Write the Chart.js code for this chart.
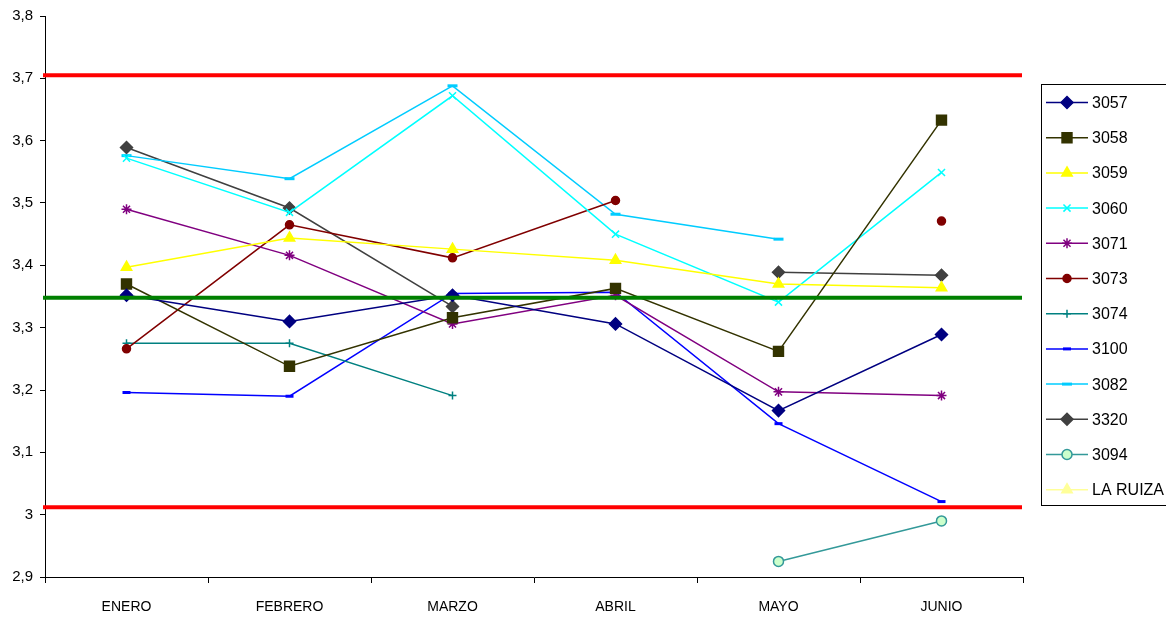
<!DOCTYPE html>
<html>
<head>
<meta charset="utf-8">
<script src="https://cdn.jsdelivr.net/npm/chart.js@4.4.1/dist/chart.umd.min.js"></script>
<style>
  html, body { margin: 0; padding: 0; background: #fff; }
  #wrap { width: 1166px; height: 619px; }
</style>
</head>
<body>
<div id="wrap"><canvas id="lineChart" width="1166" height="619"></canvas></div>
<script>
// meses
const months = ['ENERO', 'FEBRERO', 'MARZO', 'ABRIL', 'MAYO', 'JUNIO'];

// valores por codigo (null = sin dato)
const v3057 = [3.352, 3.310, 3.352, 3.306, 3.167, 3.289];
const v3058 = [3.370, 3.238, 3.316, 3.363, 3.262, 3.633];
const v3059 = [3.397, 3.444, 3.426, 3.408, 3.370, 3.364];
const v3060 = [3.572, 3.485, 3.672, 3.450, 3.341, 3.549];
const v3071 = [3.490, 3.416, 3.306, 3.352, 3.197, 3.191];
const v3073 = [3.266, 3.465, 3.412, 3.504, null, 3.471];
const v3074 = [3.275, 3.275, 3.191, null, null, null];
const v3100 = [3.196, 3.190, 3.355, 3.357, 3.146, 3.021];
const v3082 = [3.576, 3.539, 3.688, 3.482, 3.442, null];
const v3320 = [3.589, 3.492, 3.334, null, 3.389, 3.384];
const v3094 = [null, null, null, null, 2.925, 2.990];
const vLaRuiza = [null, null, null, null, null, null];

// limites y media
const upperLimit = 3.705;
const lowerLimit = 3.012;
const meanLine = 3.348;

// eje y
const yMin = 2.9;
const yMax = 3.8;
const yStep = 0.1;

function serie(label, data, color, style, radius, fill, lineColor) {
    return {
        label: label,
        data: data,
        borderColor: lineColor || color,
        backgroundColor: fill || color,
        borderWidth: 1.5,
        pointStyle: style,
        pointRadius: radius,
        pointHoverRadius: radius,
        pointBackgroundColor: fill || color,
        pointBorderColor: color,
        pointBorderWidth: style === 'line' ? 3 : 1.5,
        tension: 0,
        spanGaps: false
    };
}

const refLines = {
    id: 'refLines',
    afterDatasetsDraw(chart) {
        const { ctx, chartArea, scales: { y } } = chart;
        ctx.save();
        ctx.lineWidth = 4;
        [[upperLimit, '#ff0000'], [lowerLimit, '#ff0000'], [meanLine, '#008000']].forEach(function (l) {
            const py = y.getPixelForValue(l[0]);
            ctx.strokeStyle = l[1];
            ctx.beginPath();
            ctx.moveTo(chartArea.left - 2, py);
            ctx.lineTo(chartArea.right - 1, py);
            ctx.stroke();
        });
        ctx.restore();
    }
};

const boxLegend = {
    id: 'boxLegend',
    afterDraw(chart) {
        const ctx = chart.ctx;
        ctx.save();
        ctx.strokeStyle = '#000';
        ctx.lineWidth = 1;
        ctx.strokeRect(1041.5, 84.5, 140, 421);
        chart.data.datasets.forEach(function (ds, i) {
            const y = 102.5 + i * 35.2;
            ctx.strokeStyle = ds.borderColor;
            ctx.lineWidth = 1.5;
            ctx.beginPath();
            ctx.moveTo(1046, y);
            ctx.lineTo(1088, y);
            ctx.stroke();
            ctx.fillStyle = ds.pointBackgroundColor;
            ctx.strokeStyle = ds.pointBorderColor;
            ctx.lineWidth = ds.pointBorderWidth;
            Chart.helpers.drawPoint(ctx, {
                pointStyle: ds.pointStyle,
                radius: ds.pointRadius,
                rotation: 0,
                borderWidth: ds.pointBorderWidth
            }, 1067, y);
            ctx.fillStyle = '#000';
            ctx.font = '16px "Liberation Sans", Arial, sans-serif';
            ctx.textBaseline = 'middle';
            ctx.textAlign = 'left';
            ctx.fillText(ds.label, 1092, y + 1);
        });
        ctx.restore();
    }
};

document.addEventListener('DOMContentLoaded', function () {
    const ctx = document.getElementById('lineChart').getContext('2d');
    const lineChart = new Chart(ctx, {
        type: 'line',
        data: {
            labels: months,
            datasets: [
                serie('3057', v3057, '#000080', 'rectRot', 6),
                serie('3058', v3058, '#333300', 'rect', 7),
                serie('3059', v3059, '#ffff00', 'triangle', 6),
                serie('3060', v3060, '#00ffff', 'crossRot', 5),
                serie('3071', v3071, '#800080', 'star', 5),
                serie('3073', v3073, '#800000', 'circle', 4),
                serie('3074', v3074, '#008080', 'cross', 4),
                serie('3100', v3100, '#0000ff', 'line', 4),
                serie('3082', v3082, '#00ccff', 'line', 5),
                serie('3320', v3320, '#404040', 'rectRot', 6),
                serie('3094', v3094, '#339999', 'circle', 5, '#ccffcc'),
                serie('LA RUIZA', vLaRuiza, '#ffff99', 'triangle', 6)
            ]
        },
        options: {
            responsive: false,
            animation: false,
            layout: {
                padding: { top: 15, right: 143, left: 0, bottom: 0 }
            },
            scales: {
                x: {
                    offset: true,
                    grid: {
                        offset: true,
                        drawOnChartArea: false,
                        tickLength: 6,
                        tickColor: '#000'
                    },
                    border: { color: '#000', width: 1 },
                    ticks: {
                        color: '#000',
                        padding: 16,
                        maxRotation: 0,
                        font: { family: '"Liberation Sans", Arial, sans-serif', size: 14 }
                    },
                    afterFit: function (scale) { scale.height = 42; }
                },
                y: {
                    min: yMin,
                    max: yMax,
                    grid: {
                        drawOnChartArea: false,
                        tickLength: 5,
                        tickColor: '#000'
                    },
                    border: { color: '#000', width: 1 },
                    ticks: {
                        stepSize: yStep,
                        color: '#000',
                        padding: 7,
                        font: { family: '"Liberation Sans", Arial, sans-serif', size: 15 },
                        callback: function (value) {
                            return String(Math.round(value * 10) / 10).replace('.', ',');
                        }
                    },
                    afterFit: function (scale) { scale.width = 45; }
                }
            },
            plugins: {
                legend: { display: false },
                tooltip: { enabled: false }
            }
        },
        plugins: [refLines, boxLegend]
    });
});
</script>
</body>
</html>
